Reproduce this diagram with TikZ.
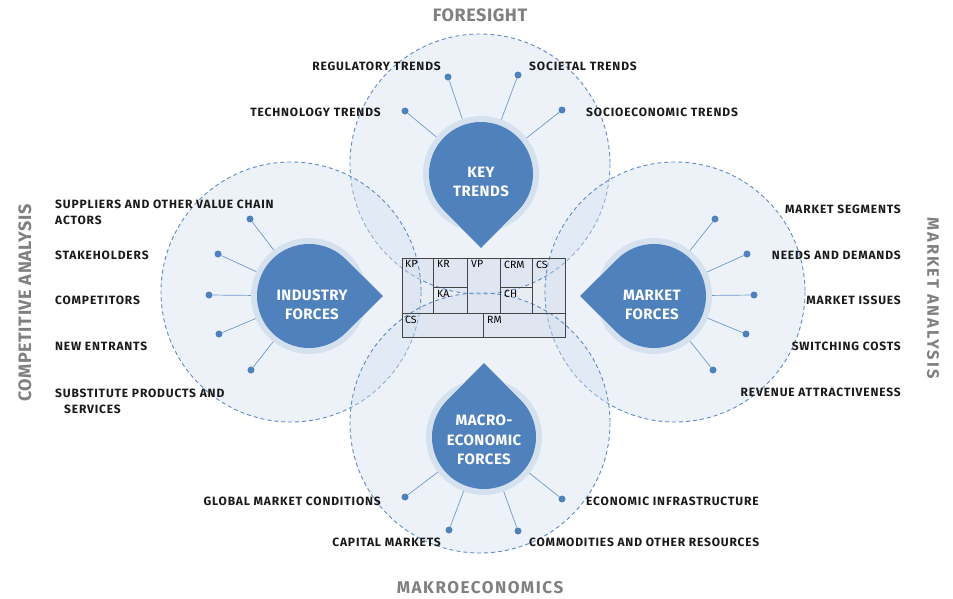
\documentclass[tikz,border=0pt]{standalone}
\usepackage{fontspec}
\setmainfont{Fira Sans}
\newfontfamily\lblfam[LetterSpace=7]{Fira Sans}
\newfontfamily\ttlfam[LetterSpace=3]{Fira Sans}
\usetikzlibrary{calc}
\definecolor{dropblue}{HTML}{4F81BD}
\definecolor{halocol}{HTML}{D6E1EF}
\definecolor{circline}{HTML}{5E8CC8}
\definecolor{circfill}{HTML}{D3DFF0}
\definecolor{spokecol}{HTML}{7099CE}
\definecolor{labelcol}{HTML}{1A1A1A}
\definecolor{titlecol}{HTML}{808080}
\definecolor{canvfill}{HTML}{E8ECF3}
\definecolor{canvline}{HTML}{454545}
\newcommand{\tdrop}[3]{%
  \fill[halocol] (#1,#2) circle[radius=58];
  \fill[dropblue] ($(#1,#2)+(#3:74)$) -- ($(#1,#2)+(#3+45:52)$)
     arc[start angle=#3+45, end angle=#3+315, radius=52] -- cycle;
}
\begin{document}
\begin{tikzpicture}[x=1pt,y=-1pt,
  bigc/.style={draw=circline, dash pattern=on 4pt off 3pt, line width=0.9pt, fill=circfill, fill opacity=0.4},
  dotn/.style={circle, fill=dropblue, inner sep=0pt, minimum size=7pt},
  spoke/.style={draw=spokecol, line width=0.7pt},
  lbl/.style={font=\lblfam\bfseries\fontsize{12}{16}\selectfont, text=labelcol, inner sep=0pt},
  ttl/.style={font=\ttlfam\bfseries\fontsize{18}{20}\selectfont, text=titlecol, inner sep=0pt},
  dtxt/.style={font=\ttlfam\bfseries\fontsize{15}{19.5}\selectfont, text=white, align=center, inner sep=0pt},
  ctxt/.style={font=\fontsize{10.5}{11}\selectfont, text=black, inner sep=0pt, anchor=north west},
  canv/.style={draw=canvline, line width=0.9pt}]
\useasboundingbox (0,0) rectangle (953,598);
\fill[white] (0,0) rectangle (953,598);
% canvas background
\fill[canvfill] (402,258) rectangle (565,337);
% big dashed circles
\path[bigc] (480,164) circle[radius=130];
\path[bigc] (291,292) circle[radius=130];
\path[bigc] (675,292) circle[radius=130];
\path[bigc] (480,423) circle[radius=130];
% canvas lines
\draw[canv] (402,258) rectangle (565,337);
\draw[canv] (402,313) -- (565,313);
\draw[canv] (433,258) -- (433,313);
\draw[canv] (467,258) -- (467,313);
\draw[canv] (500,258) -- (500,313);
\draw[canv] (532,258) -- (532,313);
\draw[canv] (433,287) -- (467,287);
\draw[canv] (500,287) -- (532,287);
\draw[canv] (483,313) -- (483,337);
\node[ctxt] (cKP) at (405,260.5) {KP};
\node[ctxt] (cKR) at (437,260.5) {KR};
\node[ctxt] (cVP) at (471,260.5) {VP};
\node[ctxt] (cCRM) at (504,260.5) {CRM};
\node[ctxt] (cCS) at (536,260.5) {CS};
\node[ctxt] (cKA) at (437,290) {KA};
\node[ctxt] (cCH) at (504,290) {CH};
\node[ctxt] (cCS2) at (405,316) {CS};
\node[ctxt] (cRM) at (487,316) {RM};
% drop centres
\coordinate (ktc) at (481,174);
\coordinate (inc) at (309,296);
\coordinate (mkc) at (654,296);
\coordinate (mac) at (484,437);
% dots
\node[dotn] (k1) at (405,111) {};
\node[dotn] (k2) at (448,77) {};
\node[dotn] (k3) at (518,75) {};
\node[dotn] (k4) at (562,110) {};
\node[dotn] (i1) at (250,219) {};
\node[dotn] (i2) at (218,254) {};
\node[dotn] (i3) at (209,295) {};
\node[dotn] (i4) at (219,334) {};
\node[dotn] (i5) at (251,370) {};
\node[dotn] (m1) at (715,219) {};
\node[dotn] (m2) at (747,254) {};
\node[dotn] (m3) at (754,295) {};
\node[dotn] (m4) at (746,334) {};
\node[dotn] (m5) at (713,370) {};
\node[dotn] (e1) at (405,497) {};
\node[dotn] (e2) at (449,530) {};
\node[dotn] (e3) at (518,531) {};
\node[dotn] (e4) at (562,499) {};
% spokes
\foreach \d in {k1,k2,k3,k4} \draw[spoke] (\d) -- (ktc);
\foreach \d in {i1,i2,i3,i4,i5} \draw[spoke] (\d) -- (inc);
\foreach \d in {m1,m2,m3,m4,m5} \draw[spoke] (\d) -- (mkc);
\foreach \d in {e1,e2,e3,e4} \draw[spoke] (\d) -- (mac);
% drops
\tdrop{481}{174}{90}
\tdrop{309}{296}{0}
\tdrop{654}{296}{180}
\tdrop{484}{437}{270}
\node[dtxt] (ktt) at (481,182) {KEY\\TRENDS};
\node[dtxt] (int) at (312,305) {INDUSTRY\\FORCES};
\node[dtxt] (mkt) at (652,305) {MARKET\\FORCES};
\node[dtxt] (mat) at (484,440) {MACRO-\\ECONOMIC\\FORCES};
% labels
\node[lbl, anchor=east] (lk1) at (381,112) {TECHNOLOGY TRENDS};
\node[lbl, anchor=east] (lk2) at (441,66) {REGULATORY TRENDS};
\node[lbl, anchor=west] (lk3) at (529,66) {SOCIETAL TRENDS};
\node[lbl, anchor=west] (lk4) at (586,112) {SOCIOECONOMIC TRENDS};
\node[lbl, anchor=west, align=left] (li1) at (55,212) {SUPPLIERS AND OTHER VALUE CHAIN\\ACTORS};
\node[lbl, anchor=west] (li2) at (55,255) {STAKEHOLDERS};
\node[lbl, anchor=west] (li3) at (55,300) {COMPETITORS};
\node[lbl, anchor=west] (li4) at (55,346) {NEW ENTRANTS};
\node[lbl, anchor=west, align=left] (li5) at (55,401) {SUBSTITUTE PRODUCTS AND\\\hspace*{9pt}SERVICES};
\node[lbl, anchor=east] (lm1) at (901,209) {MARKET SEGMENTS};
\node[lbl, anchor=east] (lm2) at (901,255) {NEEDS AND DEMANDS};
\node[lbl, anchor=east] (lm3) at (901,300) {MARKET ISSUES};
\node[lbl, anchor=east] (lm4) at (901,346) {SWITCHING COSTS};
\node[lbl, anchor=east] (lm5) at (901,392) {REVENUE ATTRACTIVENESS};
\node[lbl, anchor=east] (le1) at (381,501) {GLOBAL MARKET CONDITIONS};
\node[lbl, anchor=east] (le2) at (441,542) {CAPITAL MARKETS};
\node[lbl, anchor=west] (le3) at (586,501) {ECONOMIC INFRASTRUCTURE};
\node[lbl, anchor=west] (le4) at (529,542) {COMMODITIES AND OTHER RESOURCES};
% titles
\node[ttl] (t1) at (480,15) {FORESIGHT};
\node[ttl, font=\ttlfam\bfseries\fontsize{17}{20}\selectfont\addfontfeature{LetterSpace=9}] (t2) at (480,588) {MAKROECONOMICS};
\node[ttl, rotate=90] (t3) at (25,303) {COMPETITIVE ANALYSIS};
\node[ttl, rotate=-90, font=\ttlfam\bfseries\fontsize{16.5}{18}\selectfont\addfontfeature{LetterSpace=12}] (t4) at (933,298) {MARKET ANALYSIS};
\end{tikzpicture}
\end{document}
